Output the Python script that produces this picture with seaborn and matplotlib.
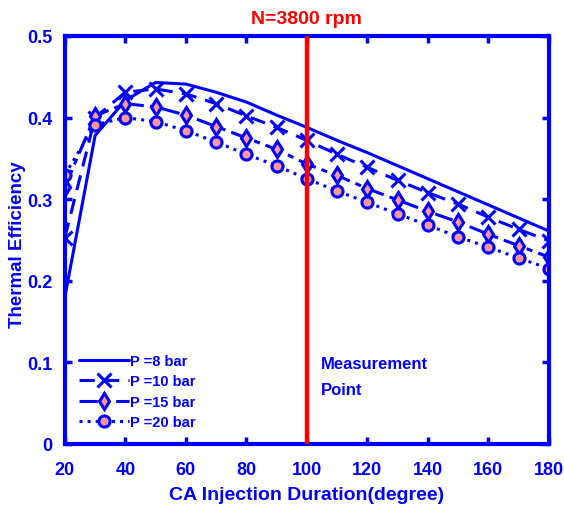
import numpy as np
import pandas as pd
import matplotlib
matplotlib.use("Agg")
import matplotlib.pyplot as plt
import seaborn as sns

# Data
duration = [20, 30, 40, 50, 60, 70, 80, 90, 100, 110, 120, 130, 140, 150, 160, 170, 180]
eff_8bar = [0.180, 0.378, 0.421, 0.443, 0.441, 0.431, 0.419, 0.403, 0.388, 0.372,
            0.357, 0.341, 0.325, 0.309, 0.293, 0.277, 0.261]
eff_10bar = [0.253, 0.400, 0.431, 0.435, 0.429, 0.417, 0.402, 0.388, 0.372, 0.355,
             0.339, 0.323, 0.308, 0.294, 0.278, 0.263, 0.249]
eff_15bar = [0.315, 0.402, 0.417, 0.413, 0.403, 0.389, 0.375, 0.361, 0.343, 0.329,
             0.313, 0.299, 0.285, 0.272, 0.257, 0.243, 0.229]
eff_20bar = [0.330, 0.391, 0.400, 0.395, 0.384, 0.370, 0.355, 0.341, 0.325, 0.310,
             0.296, 0.282, 0.268, 0.254, 0.241, 0.228, 0.215]
labels = ["P =8 bar", "P =10 bar", "P =15 bar", "P =20 bar"]
measurement_x = 100

sns.set_style("ticks")
plt.rcParams['font.family'] = ['Liberation Sans', 'DejaVu Sans']
plt.rcParams['font.weight'] = 'bold'

blue = (0, 0, 1)
fill = (1.0, 0.6, 0.6)

df = pd.DataFrame({"duration": duration * 4,
                   "eff": eff_8bar + eff_10bar + eff_15bar + eff_20bar,
                   "P": np.repeat(labels, len(duration))})

fig = plt.figure(figsize=(5.64, 5.06), dpi=100)
ax = fig.add_axes([0.115, 0.1206, 0.858, 0.8064])

styles = [("-", None), ((0, (5, 3)), "x"), ((0, (6, 2, 2, 2)), "d"), (":", "o")]
for lab, (ls, mk) in zip(labels, styles):
    sub = df[df.P == lab]
    sns.lineplot(data=sub, x="duration", y="eff", ax=ax, color=blue, lw=2.2,
                 linestyle=ls, marker=mk, markersize=8 if mk != "x" else 10,
                 markerfacecolor=fill, markeredgecolor=blue, markeredgewidth=2.2,
                 label=lab)

ax.axvline(measurement_x, color="red", lw=3.2, zorder=5)
ax.text(104.5, 0.108, "Measurement\nPoint", color=blue, fontsize=12,
        fontweight="bold", linespacing=1.9, va="top")

ax.set_xlim(20, 180)
ax.set_ylim(0, 0.5)
ax.set_xticks(range(20, 181, 20))
ax.set_yticks([0, 0.1, 0.2, 0.3, 0.4, 0.5])
ax.set_yticklabels(["0", "0.1", "0.2", "0.3", "0.4", "0.5"])
ax.tick_params(direction="in", length=5, width=2.5, colors=blue, labelsize=13,
               top=True, right=True)
ax.tick_params(axis="x", pad=12)
ax.tick_params(axis="y", pad=9)
for s in ax.spines.values():
    s.set_color(blue)
    s.set_linewidth(3)
    s.set_visible(True)

ax.set_xlabel("CA Injection Duration(degree)", color=blue, fontsize=14,
              fontweight="bold", labelpad=6)
ax.set_ylabel("Thermal Efficiency", color=blue, fontsize=13.5, fontweight="bold")
ax.yaxis.set_label_coords(-0.08, 0.49)
ax.set_title("N=3800 rpm", color="red", fontsize=14, fontweight="bold", pad=9)

leg = ax.legend(loc="lower left", bbox_to_anchor=(0.0, 0.0), frameon=False,
                fontsize=10.5, handlelength=3.4, handletextpad=0.1,
                labelspacing=0.45, borderaxespad=0.6)
for t in leg.get_texts():
    t.set_color(blue)
    t.set_fontweight("bold")

fig.savefig("out.png", dpi=100)
